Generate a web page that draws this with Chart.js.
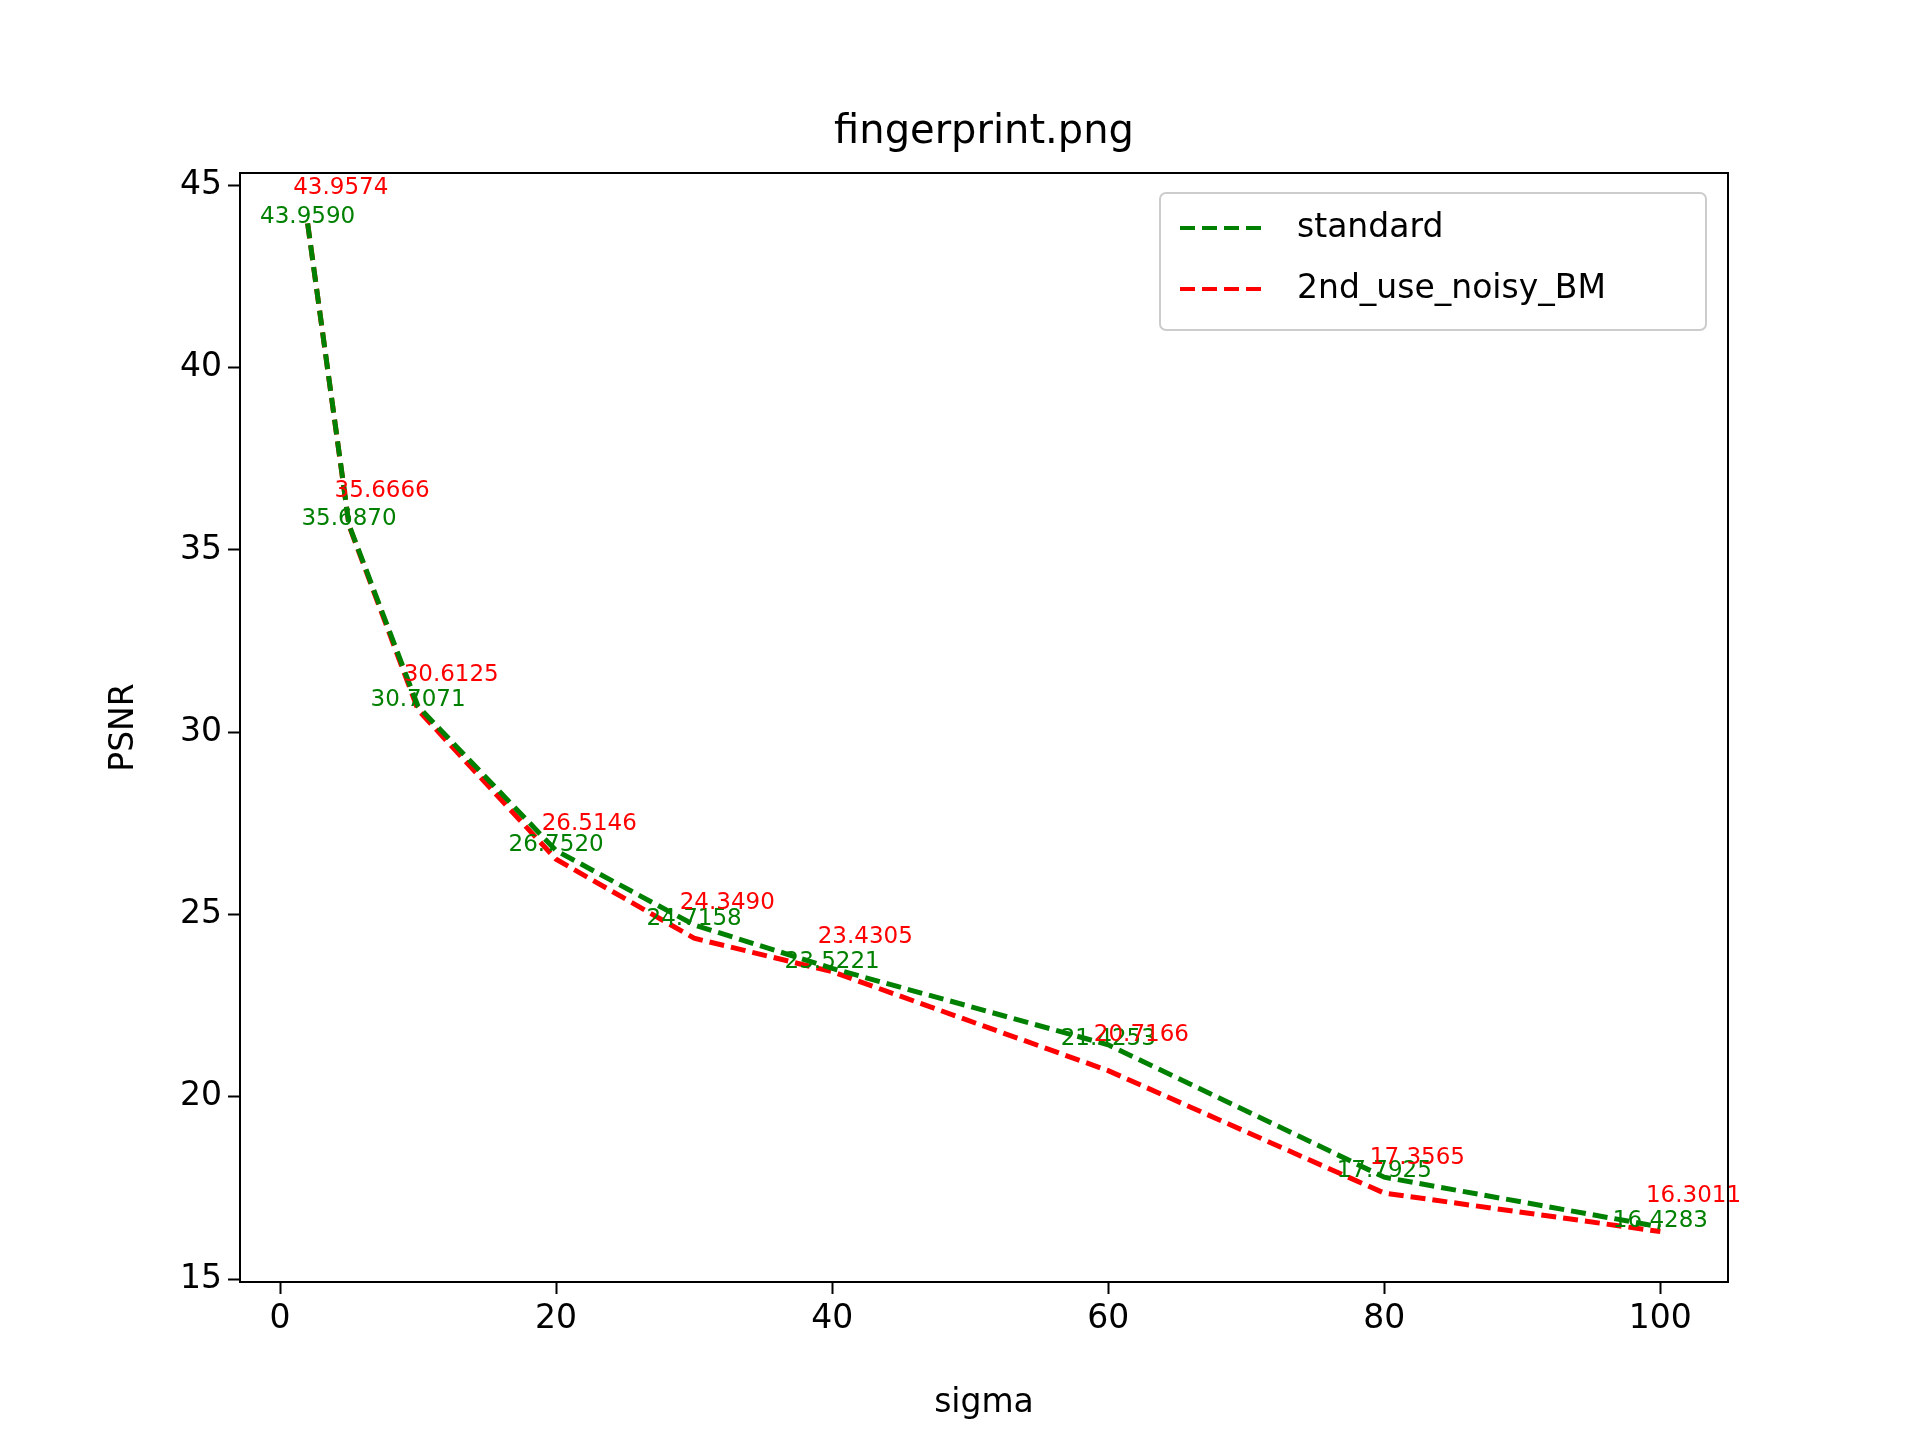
<!DOCTYPE html>
<html><head><meta charset="utf-8">
<script src="https://cdn.jsdelivr.net/npm/chart.js@4"></script>
<style>body{margin:0;background:#fff}</style>
</head><body>
<canvas id="c" width="1920" height="1440"></canvas>
<script>
const sigma = [2, 5, 10, 20, 30, 40, 60, 80, 100];
const standard = [43.9590, 35.6870, 30.7071, 26.7520, 24.7158, 23.5221, 21.4253, 17.7925, 16.4283];
const noisyBM = [43.9574, 35.6666, 30.6125, 26.5146, 24.3490, 23.4305, 20.7166, 17.3565, 16.3011];
const xTicks = [0, 20, 40, 60, 80, 100];
const yTicks = [15, 20, 25, 30, 35, 40, 45];
const FONT = 'DejaVu Sans';

const pts = ys => sigma.map((x, i) => ({x: x, y: ys[i]}));

const extras = {
  id: 'extras',
  afterDatasetsDraw(chart) {
    const {ctx, chartArea: a, scales: {x, y}} = chart;
    ctx.save();
    ctx.font = '23px ' + FONT;
    ctx.textAlign = 'center';
    ctx.textBaseline = 'alphabetic';
    ctx.fillStyle = 'green';
    standard.forEach((v, i) => ctx.fillText(v.toFixed(4), x.getPixelForValue(sigma[i]), y.getPixelForValue(v)));
    ctx.fillStyle = 'red';
    noisyBM.forEach((v, i) => ctx.fillText(v.toFixed(4), x.getPixelForValue(sigma[i] + 2.4), y.getPixelForValue(v + 0.8)));
    // frame
    ctx.strokeStyle = '#000'; ctx.lineWidth = 2;
    ctx.strokeRect(a.left, a.top, a.right - a.left, a.bottom - a.top);
    // title and axis labels
    ctx.fillStyle = '#000';
    ctx.font = '40px ' + FONT;
    ctx.textBaseline = 'middle';
    ctx.fillText('fingerprint.png', (a.left + a.right) / 2, 133);
    ctx.font = '33px ' + FONT;
    ctx.fillText('sigma', (a.left + a.right) / 2, 1403);
    ctx.translate(124, (a.top + a.bottom) / 2);
    ctx.rotate(-Math.PI / 2);
    ctx.fillText('PSNR', 0, 0);
    ctx.restore();
    // legend
    ctx.save();
    const lw = 546, lh = 137, lx = a.right - 22 - lw, ly = a.top + 20;
    ctx.fillStyle = 'rgba(255,255,255,0.8)';
    ctx.strokeStyle = '#ccc'; ctx.lineWidth = 2;
    ctx.beginPath(); ctx.roundRect(lx, ly, lw, lh, 6); ctx.fill(); ctx.stroke();
    const items = [['standard', 'green'], ['2nd_use_noisy_BM', 'red']];
    ctx.font = '33px ' + FONT; ctx.textAlign = 'left'; ctx.textBaseline = 'middle';
    items.forEach((it, i) => {
      const yy = ly + 35 + i * 61;
      ctx.strokeStyle = it[1]; ctx.lineWidth = 4; ctx.setLineDash([15, 7]);
      ctx.beginPath(); ctx.moveTo(lx + 20, yy); ctx.lineTo(lx + 106, yy); ctx.stroke();
      ctx.setLineDash([]);
      ctx.fillStyle = '#000'; ctx.fillText(it[0], lx + 137, yy);
    });
    ctx.restore();
  }
};

const axisCommon = {
  type: 'linear',
  grid: {drawOnChartArea: false, drawTicks: true, tickLength: 12, tickColor: '#000', tickWidth: 2},
  border: {display: false},
  ticks: {color: '#000', font: {family: FONT, size: 33}, padding: 6}
};

new Chart(document.getElementById('c'), {
  type: 'line',
  data: {
    datasets: [
      {label: 'standard', data: pts(standard), borderColor: 'green', borderWidth: 5, borderDash: [15, 7], pointRadius: 0, tension: 0},
      {label: '2nd_use_noisy_BM', data: pts(noisyBM), borderColor: 'red', borderWidth: 5, borderDash: [15, 7], pointRadius: 0, tension: 0}
    ]
  },
  options: {
    responsive: false, animation: false, devicePixelRatio: 1,
    layout: {padding: {top: 173, right: 192, left: 0, bottom: 0}},
    plugins: {legend: {display: false}, tooltip: {enabled: false}},
    scales: {
      x: Object.assign({}, axisCommon, {
        min: -2.9, max: 104.9,
        afterBuildTicks: s => { s.ticks = xTicks.map(v => ({value: v})); },
        afterFit: s => { s.height = 158; }
      }),
      y: Object.assign({}, axisCommon, {
        min: 14.918, max: 45.342,
        afterBuildTicks: s => { s.ticks = yTicks.map(v => ({value: v})); },
        afterFit: s => { s.width = 240; }
      })
    }
  },
  plugins: [extras]
});
</script>
</body></html>
